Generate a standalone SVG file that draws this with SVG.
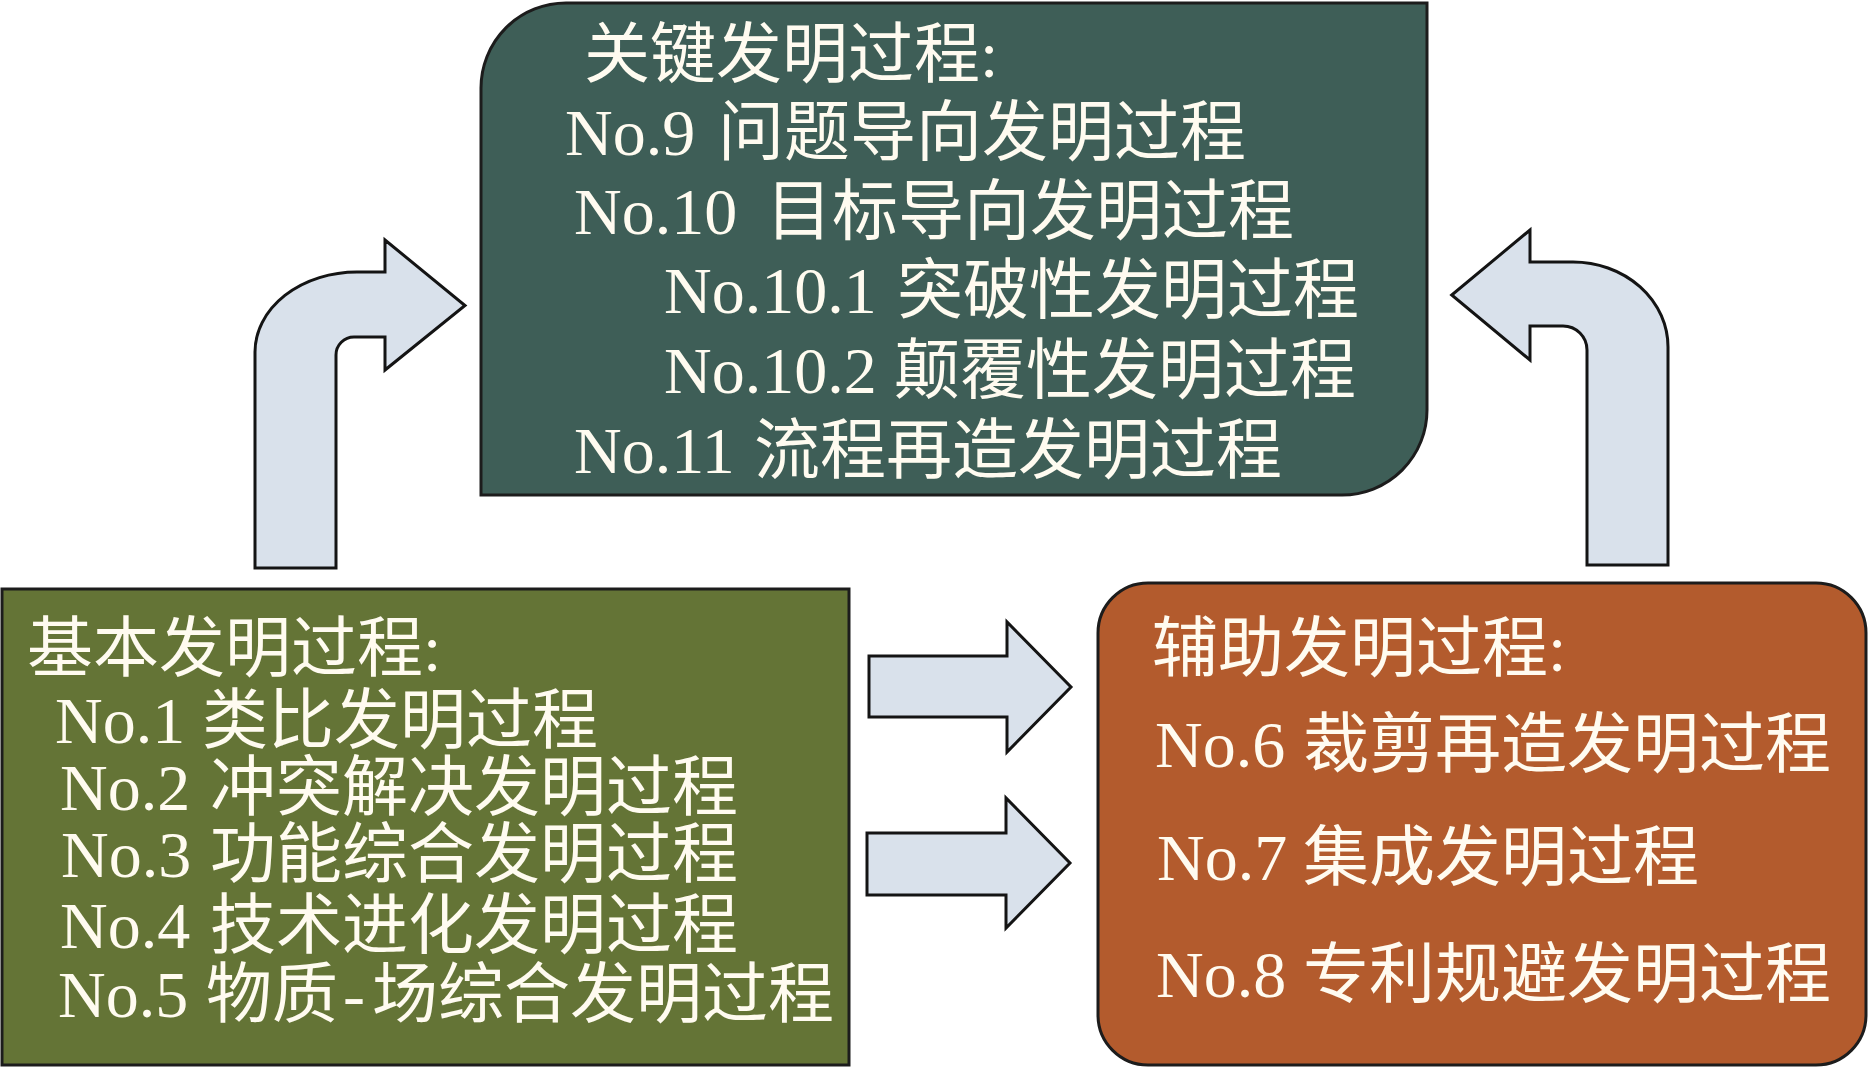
<svg xmlns="http://www.w3.org/2000/svg" width="1871" height="1068" viewBox="0 0 1871 1068">
<style>
.box{stroke:#1c1c1c;stroke-width:3}
.arrow{fill:#D9E1EB;stroke:#141414;stroke-width:3;stroke-linejoin:miter}
text{font-family:'Liberation Serif','Noto Sans CJK SC',serif;font-size:66px;fill:#FFFBF0}
</style>
<rect width="1871" height="1068" fill="#FFFFFF"/>
<g id="connectors">
<path class="arrow" d="M255,568 V352 A102 80 0 0 1 357,272 H385 V240 L465,305.5 L385,370 V337 H354 A18 18 0 0 0 336,355 V568 Z"/>
<path class="arrow" d="M1587,565 V350 A24 24 0 0 0 1563,326 H1530 V360 L1451.7,295 L1530,230 V262 H1573 A95 85 0 0 1 1668,347 V565 Z"/>
<path class="arrow" d="M869,656 H1007 V622 L1071,687 L1007,752 V717 H869 Z"/>
<path class="arrow" d="M867,833 H1006 V798 L1070,863 L1006,928 V895 H867 Z"/>
</g>
<g id="key-process">
<path class="box" fill="#3E5E57" d="M566,3 H1427 V410 A85 85 0 0 1 1342,495 H481 V88 A85 85 0 0 1 566,3 Z"/>
<text x="584" y="77">关键发明过程:</text>
<text x="565" y="155">No.9 <tspan x="718">问题导向发明过程</tspan></text>
<text x="574" y="234">No.10 <tspan x="766">目标导向发明过程</tspan></text>
<text x="664" y="313">No.10.1 <tspan x="897">突破性发明过程</tspan></text>
<text x="664" y="393">No.10.2 <tspan x="894">颠覆性发明过程</tspan></text>
<text x="574" y="473">No.11 <tspan x="754">流程再造发明过程</tspan></text>
</g>
<g id="basic-process">
<rect class="box" fill="#647436" x="2" y="589" width="847" height="476"/>
<text x="27" y="671">基本发明过程:</text>
<text x="55" y="743">No.1 <tspan x="202">类比发明过程</tspan></text>
<text x="60" y="810">No.2 <tspan x="210">冲突解决发明过程</tspan></text>
<text x="61" y="877">No.3 <tspan x="210">功能综合发明过程</tspan></text>
<text x="60" y="948">No.4 <tspan x="210">技术进化发明过程</tspan></text>
<text x="58" y="1017">No.5 <tspan x="206">物质</tspan><tspan x="343">-</tspan><tspan x="372">场综合发明过程</tspan></text>
</g>
<g id="auxiliary-process">
<rect class="box" fill="#B35B2D" x="1098" y="583" width="768" height="482" rx="50" ry="50"/>
<text x="1152" y="671">辅助发明过程:</text>
<text x="1155" y="767">No.6 <tspan x="1303">裁剪再造发明过程</tspan></text>
<text x="1157" y="880">No.7 <tspan x="1303">集成发明过程</tspan></text>
<text x="1156" y="997">No.8 <tspan x="1303">专利规避发明过程</tspan></text>
</g>
</svg>
